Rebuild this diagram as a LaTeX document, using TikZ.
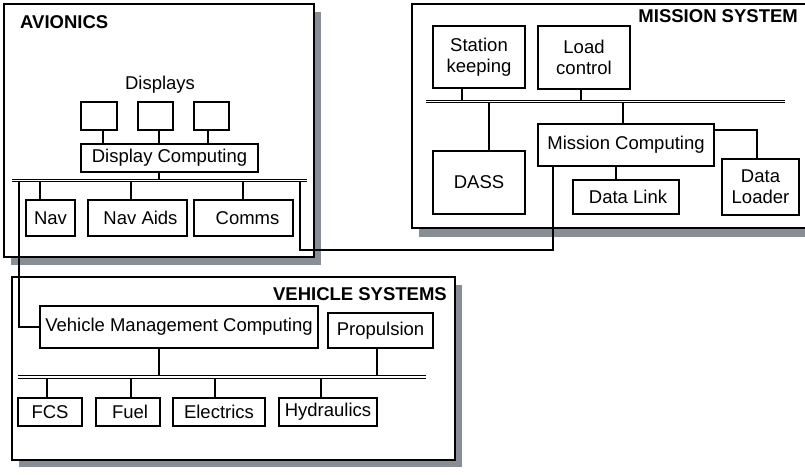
\documentclass[tikz,border=0pt]{standalone}
\usepackage{fontspec}
\setmainfont{Liberation Sans}
\begin{document}
\begin{tikzpicture}[x=1pt,y=-1pt,
  every node/.style={font=\fontsize{18.5}{21}\selectfont, inner sep=0pt},
  blk/.style={draw, line width=1.2pt, fill=white, align=center},
  frame/.style={draw, line width=1.3pt, fill=white},
  shade/.style={fill=shadowgray, draw=none},
  link/.style={line width=1.2pt},
  bus/.style={line width=1pt, double=white, double distance=1.4pt},
  title/.style={font=\fontsize{18.5}{21}\selectfont\bfseries}]
\definecolor{shadowgray}{RGB}{135,142,150}
\useasboundingbox (0,0) rectangle (805,474);
\clip (0,0) rectangle (805,474);

% subsystem frames with drop shadows
\fill[shade] (11,12) rectangle (321,265);
\draw[frame] (4,4) rectangle (314,257);
\fill[shade] (419,12) rectangle (820,237);
\draw[frame] (412,4) rectangle (812,228);
\fill[shade] (19,285) rectangle (462,467);
\draw[frame] (12,277) rectangle (455,460);

\node[title, anchor=west] (tav) at (20,22) {AVIONICS};
\node[title, anchor=east] (tms) at (798,16) {MISSION SYSTEM};
\node[title, anchor=east] (tvs) at (447,294) {VEHICLE SYSTEMS};

% ---------------- avionics ----------------
\node (dlab) at (160,85) {Displays};
\node[blk, minimum width=36, minimum height=28] (d1) at (99,116) {};
\node[blk, minimum width=35, minimum height=28] (d2) at (155.5,116) {};
\node[blk, minimum width=35, minimum height=28] (d3) at (211.5,116) {};
\node[blk, minimum width=177, minimum height=28] (dc) at (169.5,158) {Display Computing};
\node[blk, minimum width=49, minimum height=36] (nav) at (50.5,218) {Nav};
\node[blk, minimum width=99, minimum height=36] (navaids) at (137.5,218) {\hspace{6pt}Nav Aids};
\node[blk, minimum width=99, minimum height=36] (comms) at (243.5,218) {\hspace{8pt}Comms};

\coordinate (abL) at (12,180.5);
\coordinate (abR) at (307,180.5);

\draw[link] ([xshift=4pt]d1.south) -- ([xshift=4pt]d1.south |- dc.north);
\draw[link] ([xshift=3.5pt]d2.south) -- ([xshift=3.5pt]d2.south |- dc.north);
\draw[link] ([xshift=-3.5pt]d3.south) -- ([xshift=-3.5pt]d3.south |- dc.north);
\draw[link] ([xshift=-10.5pt]dc.south) -- ([xshift=-10.5pt]dc.south |- abL);
\draw[link] ([xshift=-10.5pt]nav.north) -- ([xshift=-10.5pt]nav.north |- abL);
\draw[link] ([xshift=-6.5pt]navaids.north) -- ([xshift=-6.5pt]navaids.north |- abL);
\draw[link] ([xshift=-0.5pt]comms.north) -- ([xshift=-0.5pt]comms.north |- abL);

% ---------------- mission system ----------------
\node[blk, minimum width=92, minimum height=62] (sk) at (479,57) {Station\\keeping};
\node[blk, minimum width=92, minimum height=63] (lc) at (584,57.5) {Load\\control};
\node[blk, minimum width=92, minimum height=63] (dass) at (479,182.5) {DASS};
\node[blk, minimum width=176, minimum height=42] (mc) at (626,145) {Mission Computing};
\node[blk, minimum width=106, minimum height=34] (dl) at (626,197) {\hspace{4pt}Data Link};
\node[blk, minimum width=77, minimum height=56] (dld) at (760.5,187) {Data\\Loader};

\coordinate (mbL) at (426,101.5);
\coordinate (mbR) at (785,101.5);

\draw[link] ([xshift=-17pt]sk.south) -- ([xshift=-17pt]sk.south |- mbL);
\draw[link] ([xshift=-3pt]lc.south) -- ([xshift=-3pt]lc.south |- mbL);
\draw[link] ([xshift=10pt]dass.north) -- ([xshift=10pt]dass.north |- mbL);
\draw[link] ([xshift=-3pt]mc.north) -- ([xshift=-3pt]mc.north |- mbL);
\draw[link] ([xshift=-10pt]mc.south) -- ([xshift=-10pt]mc.south |- dl.north);
\draw[link] ([yshift=15pt]mc.east) -| ([xshift=-3.5pt]dld.north);

% ---------------- vehicle systems ----------------
\node[blk, minimum width=278, minimum height=42] (vmc) at (179,327) {Vehicle Management Computing};
\node[blk, minimum width=105, minimum height=35] (prop) at (380.5,330.5) {Propulsion};
\node[blk, minimum width=64, minimum height=28] (fcs) at (50,412) {FCS};
\node[blk, minimum width=64, minimum height=28] (fuel) at (128,412) {\hspace{4pt}Fuel};
\node[blk, minimum width=92, minimum height=28] (elec) at (219,412) {Electrics};
\node[blk, minimum width=98, minimum height=28] (hyd) at (328,412) {Hydraulics};

\coordinate (vbL) at (18,377);
\coordinate (vbR) at (426,377);

\draw[link] ([xshift=-20pt]vmc.south) -- ([xshift=-20pt]vmc.south |- vbL);
\draw[link] ([xshift=-3.5pt]prop.south) -- ([xshift=-3.5pt]prop.south |- vbL);
\draw[link] ([xshift=-3pt]fcs.north) -- ([xshift=-3pt]fcs.north |- vbL);
\draw[link] ([xshift=3pt]fuel.north) -- ([xshift=3pt]fuel.north |- vbL);
\draw[link] ([xshift=-4pt]elec.north) -- ([xshift=-4pt]elec.north |- vbL);
\draw[link] ([xshift=-7pt]hyd.north) -- ([xshift=-7pt]hyd.north |- vbL);

% ---------------- inter-system links ----------------
\coordinate (avTapV) at (19,180.5);
\coordinate (avTapM) at (300,180.5);
\coordinate (msCorner) at (553,250);
\draw[link] (avTapV) |- (vmc.west);
\draw[link] (avTapM) |- (msCorner) -- (msCorner |- mc.south);

% data buses drawn last so their hollow core is clean
\draw[bus] (abL) -- (abR);
\draw[bus] (mbL) -- (mbR);
\draw[bus] (vbL) -- (vbR);
\end{tikzpicture}
\end{document}
